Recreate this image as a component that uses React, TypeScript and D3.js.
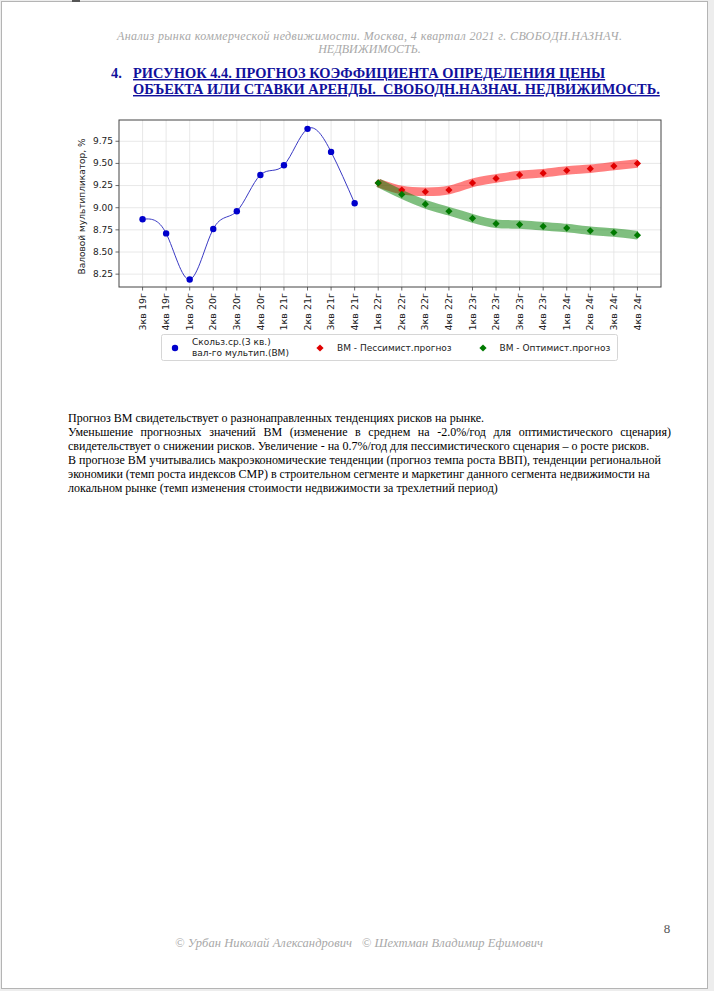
import React, { useEffect, useRef } from 'react';
import * as d3 from 'd3';

// quarters on the x axis
const quarters = [
  '3кв 19г', '4кв 19г',
  '1кв 20г', '2кв 20г', '3кв 20г', '4кв 20г',
  '1кв 21г', '2кв 21г', '3кв 21г', '4кв 21г',
  '1кв 22г', '2кв 22г', '3кв 22г', '4кв 22г',
  '1кв 23г', '2кв 23г', '3кв 23г', '4кв 23г',
  '1кв 24г', '2кв 24г', '3кв 24г', '4кв 24г',
];

// moving average of gross multiplier (history)
const history = [8.87, 8.71, 8.19, 8.76, 8.96, 9.37, 9.48, 9.89, 9.63, 9.05];
// forecasts start at 1кв 22г
const pessimistic = [9.28, 9.2, 9.18, 9.2, 9.28, 9.33, 9.37, 9.39, 9.42, 9.44, 9.47, 9.5];
const optimistic = [9.28, 9.15, 9.04, 8.96, 8.88, 8.82, 8.81, 8.79, 8.77, 8.74, 8.72, 8.69];
const forecastStart = 10;

const yTicks = [8.25, 8.5, 8.75, 9.0, 9.25, 9.5, 9.75];

const legendLabels = ['Скольз.ср.(3 кв.)', 'вал-го мультип.(ВМ)', 'ВМ - Пессимист.прогноз', 'ВМ - Оптимист.прогноз'];

const bodyLine1 = 'Прогноз ВМ свидетельствует о разнонаправленных тенденциях рисков на рынке.';
const bodyJustified = 'Уменьшение прогнозных значений ВМ (изменение в среднем на -2.0%/год для оптимистического сценария)';
const bodyRest = [
  'свидетельствует о снижении рисков. Увеличение - на 0.7%/год для пессимистического сценария – о росте рисков.',
  'В прогнозе ВМ учитывались макроэкономические тенденции (прогноз темпа роста ВВП), тенденции региональной',
  'экономики (темп роста индексов СМР) в строительном сегменте и маркетинг данного сегмента недвижимости на',
  'локальном рынке (темп изменения стоимости недвижимости за трехлетний период)',
];

const W = 714;
const H = 991;
const plot = { l: 119, r: 661, t: 120, b: 287 };

const CHART_FONT = 'DejaVu Sans, sans-serif';
const SERIF = '"Liberation Serif", "Times New Roman", serif';

const App = () => {
  const justRef = useRef<SVGGElement>(null);

  const x = d3.scaleLinear().domain([-1, 22]).range([plot.l, plot.r]);
  const y = d3.scaleLinear().domain([8.105, 9.99]).range([plot.b, plot.t]);

  const histLine = d3
    .line<number>()
    .x((d, i) => x(i))
    .y((d) => y(d))
    .curve(d3.curveNatural);

  const fcLine = d3
    .line<number>()
    .x((d, i) => x(i + forecastStart))
    .y((d) => y(d))
    .curve(d3.curveNatural);

  const diamond = d3.symbol(d3.symbolSquare, 26)();

  useEffect(() => {
    const g = d3.select(justRef.current);
    const nodes = g.selectAll<SVGTextElement, unknown>('text').nodes();
    const widths = nodes.map((n) => n.getComputedTextLength());
    const total = d3.sum(widths);
    const gap = (671 - 68 - total) / (nodes.length - 1);
    let cx = 68;
    nodes.forEach((n, i) => {
      d3.select(n).attr('x', cx);
      cx += widths[i] + gap;
    });
  }, []);

  return (
    <svg
      width={W}
      height={H}
      viewBox={`0 0 ${W} ${H}`}
      style={{ position: 'absolute', left: 0, top: 0 }}
    >
      <rect x={0} y={0} width={W} height={H} fill="#ededed" />
      <rect x={1.5} y={1.5} width={706} height={987} fill="#fff" stroke="#b4b4b4" />
      <rect x={72} y={0} width={8} height={2} fill="#555" />

      {/* page header */}
      <g
        fontFamily={SERIF}
        fontStyle="italic"
        fontSize={12}
        fill="#a8a8a8"
        textAnchor="middle"
        style={{ whiteSpace: 'pre' }}
      >
        <text x={369.5} y={40} textLength={505} lengthAdjust="spacing">
          Анализ рынка коммерческой недвижимости.  Москва,  4 квартал 2021 г.  СВОБОДН.НАЗНАЧ.
        </text>
        <text x={369.5} y={52.5}>НЕДВИЖИМОСТЬ.</text>
      </g>

      {/* figure title */}
      <g fontFamily={SERIF} fontWeight="bold" fontSize={14.4} fill="#10109c">
        <text x={111} y={78}>4.</text>
        <text x={133} y={78} textDecoration="underline" style={{ whiteSpace: 'pre' }}>
          РИСУНОК 4.4. ПРОГНОЗ КОЭФФИЦИЕНТА ОПРЕДЕЛЕНИЯ ЦЕНЫ
        </text>
        <text x={133} y={94} textDecoration="underline" style={{ whiteSpace: 'pre' }}>
          ОБЪЕКТА ИЛИ СТАВКИ АРЕНДЫ.  СВОБОДН.НАЗНАЧ. НЕДВИЖИМОСТЬ.
        </text>
      </g>

      {/* chart */}
      <g fontFamily={CHART_FONT}>
        {/* grid */}
        {quarters.map((q, i) => (
          <line key={q} x1={x(i)} x2={x(i)} y1={plot.t} y2={plot.b} stroke="#e2e2e2" strokeWidth={0.8} />
        ))}
        {yTicks.map((t) => (
          <line key={t} x1={plot.l} x2={plot.r} y1={y(t)} y2={y(t)} stroke="#e2e2e2" strokeWidth={0.8} />
        ))}

        {/* forecast bands */}
        <path d={fcLine(pessimistic) || ''} fill="none" stroke="rgba(255,0,0,0.5)" strokeWidth={8.5} />
        <path d={fcLine(optimistic) || ''} fill="none" stroke="rgba(0,128,0,0.5)" strokeWidth={8.5} />

        {/* history */}
        <path d={histLine(history) || ''} fill="none" stroke="#3a3ac4" strokeWidth={1} />
        {history.map((d, i) => (
          <circle key={i} cx={x(i)} cy={y(d)} r={3.2} fill="#0000cc" />
        ))}
        {pessimistic.map((d, i) => (
          <path
            key={'p' + i}
            d={diamond || ''}
            transform={`translate(${x(i + forecastStart)},${y(d)}) rotate(45)`}
            fill="#e00000"
          />
        ))}
        {optimistic.map((d, i) => (
          <path
            key={'o' + i}
            d={diamond || ''}
            transform={`translate(${x(i + forecastStart)},${y(d)}) rotate(45)`}
            fill="#007a00"
          />
        ))}

        {/* frame */}
        <rect
          x={plot.l}
          y={plot.t}
          width={plot.r - plot.l}
          height={plot.b - plot.t}
          fill="none"
          stroke="#444"
          strokeWidth={1}
        />

        {/* y axis */}
        {yTicks.map((t) => (
          <g key={t} transform={`translate(${plot.l},${y(t)})`}>
            <line x1={-3.5} x2={0} stroke="#444" strokeWidth={0.8} />
            <text x={-6} dy="0.32em" textAnchor="end" fontSize={9} fill="#222">
              {t.toFixed(2)}
            </text>
          </g>
        ))}
        <text
          transform={`translate(85,${(plot.t + plot.b) / 2 + 3}) rotate(-90)`}
          textAnchor="middle"
          fontSize={9}
          fill="#222"
        >
          Валовой мультипликатор, %
        </text>

        {/* x axis */}
        {quarters.map((q, i) => (
          <g key={q} transform={`translate(${x(i)},${plot.b})`}>
            <line y1={0} y2={3.5} stroke="#444" strokeWidth={0.8} />
            <text
              transform="translate(0,6) rotate(-90)"
              dy="0.33em"
              textAnchor="end"
              fontSize={9.5}
              fill="#222"
            >
              {q}
            </text>
          </g>
        ))}

        {/* legend */}
        <rect x={161.5} y={334.5} width={456} height={26} rx={2} fill="#fff" stroke="#d6d6d6" />
        <circle cx={175} cy={348} r={3.2} fill="#0000cc" />
        <text x={192} y={344.5} fontSize={9} fill="#222">{legendLabels[0]}</text>
        <text x={192} y={355.5} fontSize={9} fill="#222">{legendLabels[1]}</text>
        <path d={diamond || ''} transform="translate(320,348) rotate(45)" fill="#e00000" />
        <text x={337} y={351} fontSize={9} fill="#222">{legendLabels[2]}</text>
        <path d={diamond || ''} transform="translate(483,348) rotate(45)" fill="#007a00" />
        <text x={499.5} y={351} fontSize={9} fill="#222">{legendLabels[3]}</text>
      </g>

      {/* body text */}
      <g fontFamily={SERIF} fontSize={12} fill="#000">
        <text x={68} y={422}>{bodyLine1}</text>
        <g ref={justRef}>
          {bodyJustified.split(' ').map((w, i) => (
            <text key={i} x={68} y={436}>{w}</text>
          ))}
        </g>
        {bodyRest.map((l, i) => (
          <text key={i} x={68} y={450 + i * 14}>{l}</text>
        ))}
      </g>

      {/* footer */}
      <text x={667} y={933} fontFamily={SERIF} fontSize={13} fill="#555" textAnchor="middle">8</text>
      <text
        x={359}
        y={947}
        fontFamily={SERIF}
        fontStyle="italic"
        fontSize={12.5}
        fill="#a8a8a8"
        textAnchor="middle"
        textLength={368}
        lengthAdjust="spacing"
        style={{ whiteSpace: 'pre' }}
      >
        © Урбан Николай Александрович   © Шехтман Владимир Ефимович
      </text>
    </svg>
  );
};

export default App;
